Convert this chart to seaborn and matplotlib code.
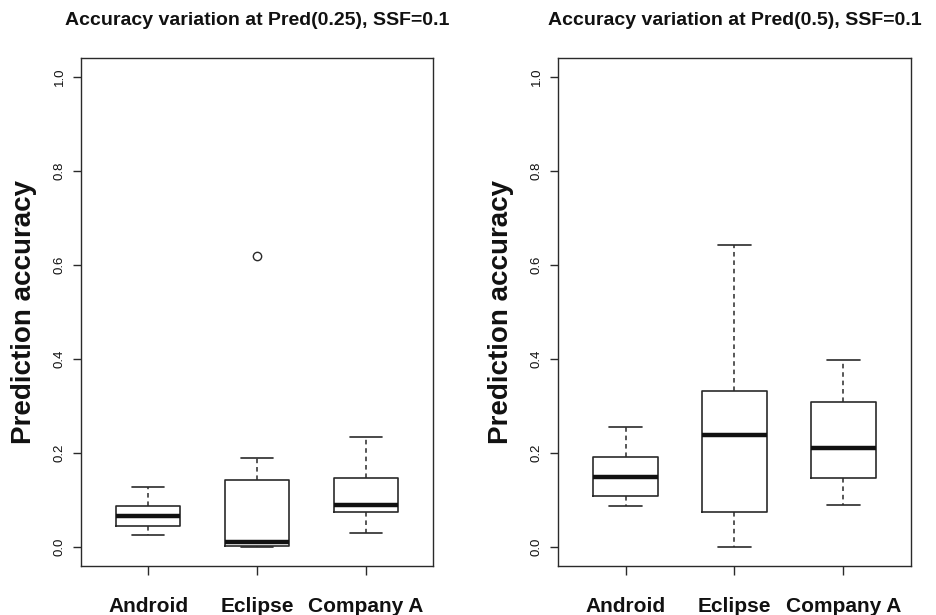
import numpy as np
import pandas as pd
import matplotlib
matplotlib.use("Agg")
import matplotlib.pyplot as plt
import seaborn as sns

categories = ["Android", "Eclipse", "Company A"]

# Five-number summaries (lower whisker, Q1, median, Q3, upper whisker)
left_lower = [0.025, 0.000, 0.030]
left_q1 = [0.045, 0.003, 0.075]
left_median = [0.065, 0.011, 0.089]
left_q3 = [0.087, 0.143, 0.146]
left_upper = [0.128, 0.189, 0.235]
left_outlier_cat = ["Eclipse"]
left_outlier_val = [0.62]

right_lower = [0.088, 0.000, 0.089]
right_q1 = [0.108, 0.074, 0.147]
right_median = [0.149, 0.238, 0.211]
right_q3 = [0.191, 0.332, 0.309]
right_upper = [0.255, 0.643, 0.398]
right_outlier_cat = []
right_outlier_val = []

titles = ["Accuracy variation at Pred(0.25), SSF=0.1",
          "Accuracy variation at Pred(0.5), SSF=0.1"]
ylabel = "Prediction accuracy"
yticks = [0.0, 0.2, 0.4, 0.6, 0.8, 1.0]


def summary_frame(lower, q1, med, q3, upper):
    rows = []
    for c, a, b, m, d, e in zip(categories, lower, q1, med, q3, upper):
        for v in (a, b, m, d, e):
            rows.append({"group": c, "accuracy": v})
    return pd.DataFrame(rows)


sns.set_theme(style="white")
plt.rcParams["font.family"] = ["Liberation Sans", "DejaVu Sans"]
plt.rcParams["text.color"] = "#111111"
plt.rcParams["axes.labelcolor"] = "#111111"
plt.rcParams["xtick.color"] = "#111111"
plt.rcParams["ytick.color"] = "#111111"

fig = plt.figure(figsize=(9.37, 6.15), dpi=100)
axes = [fig.add_axes([81 / 937, 1 - 566 / 615, 352 / 937, 508 / 615]),
        fig.add_axes([558 / 937, 1 - 566 / 615, 353 / 937, 508 / 615])]

panels = [
    (summary_frame(left_lower, left_q1, left_median, left_q3, left_upper), left_outlier_cat, left_outlier_val),
    (summary_frame(right_lower, right_q1, right_median, right_q3, right_upper), right_outlier_cat, right_outlier_val),
]

lc = "#2a2a2a"
for ax, (df, ocat, oval), title in zip(axes, panels, titles):
    sns.boxplot(data=df, x="group", y="accuracy", order=categories, ax=ax,
                whis=np.inf, width=0.59, fill=False, color=lc, linecolor=lc, linewidth=1.2,
                boxprops=dict(color=lc, linewidth=1.2),
                whiskerprops=dict(linestyle=(0, (3, 2.5)), color=lc, linewidth=1.1),
                capprops=dict(color=lc, linewidth=1.2),
                medianprops=dict(color="#111111", linewidth=3.2),
                showfliers=False)
    if ocat:
        odf = pd.DataFrame({"group": ocat, "accuracy": oval})
        sns.stripplot(data=odf, x="group", y="accuracy", order=categories, ax=ax,
                      jitter=False, size=6, color="white", edgecolor=lc, linewidth=1.0)
    ax.set_xlim(-0.62, 2.62)
    ax.set_ylim(-0.0404, 1.0404)
    ax.set_yticks(yticks)
    ax.set_yticklabels([f"{t:.1f}" for t in yticks], rotation=90, va="center", fontsize=9.5)
    ax.set_xticks(range(len(categories)))
    ax.set_xticklabels(categories, fontsize=15, fontweight="bold")
    ax.tick_params(axis="y", direction="out", length=6, width=1, color=lc, pad=5, left=True)
    ax.tick_params(axis="x", direction="out", length=6.5, width=1, color=lc, pad=16, bottom=True)
    for s in ax.spines.values():
        s.set_visible(True)
        s.set_color(lc)
        s.set_linewidth(1.0)
    ax.set_xlabel("")
    ax.set_ylabel(ylabel, fontsize=20, fontweight="bold", labelpad=12)
    ax.set_title(title, fontsize=14, fontweight="bold", pad=24)
    ax.grid(False)

fig.savefig("out.png", dpi=100, facecolor="white")
